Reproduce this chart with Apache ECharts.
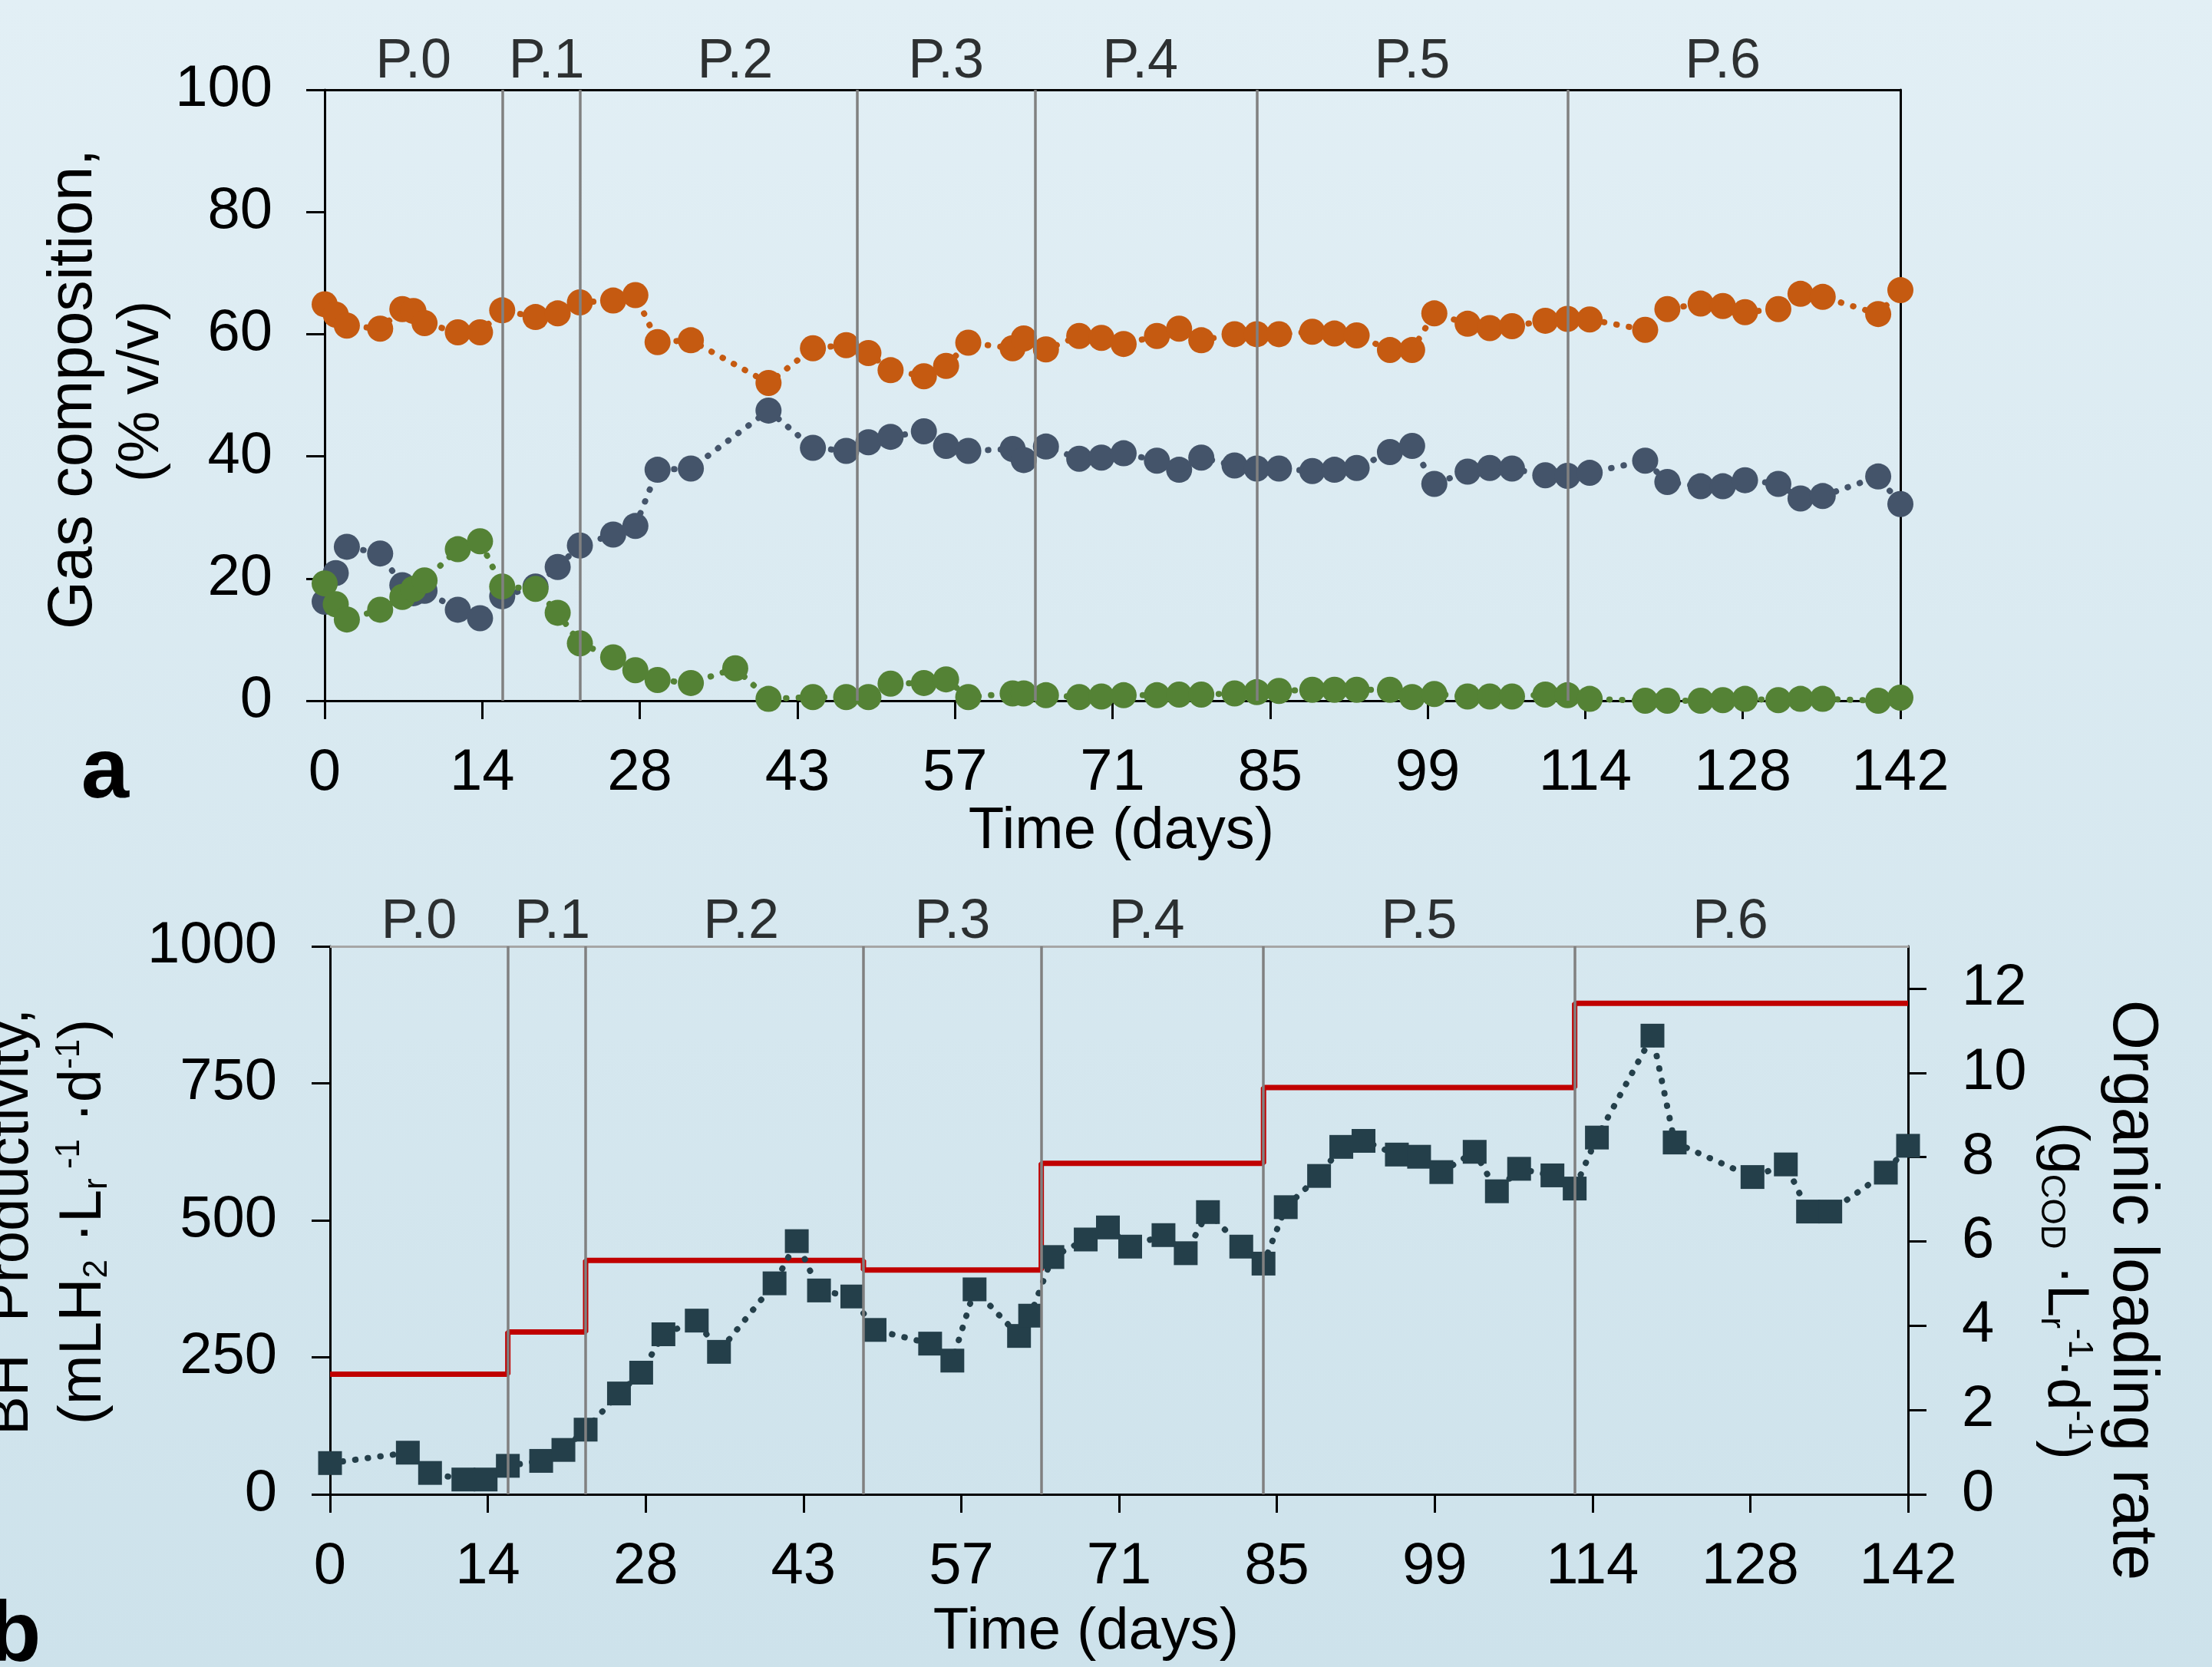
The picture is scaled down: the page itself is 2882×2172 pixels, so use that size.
<!DOCTYPE html>
<html><head><meta charset="utf-8">
<script src="https://cdn.jsdelivr.net/npm/echarts@6/dist/echarts.min.js"></script>
<style>html,body{margin:0;padding:0;width:2882px;height:2172px;overflow:hidden;background:#D8E9F0;}
#c{width:2882px;height:2172px;}</style></head>
<body><div id="c"></div>
<script>
const FONT = '"Liberation Sans", Arial, sans-serif';

// ---- Panel a: gas composition (% v/v) ----
const gasDays = [0,1,2,5,7,8,9,12,14,16,19,21,23,26,28,30,33,40,44,47,49,51,54,56,58,62,63,65,68,70,72,75,77,79,82,84,86,89,91,93,96,98,100,103,105,107,110,112,114,119,121,124,126,128,131,133,135,140,142];
const orangeShare = [64.9,63.2,61.4,60.9,64.1,63.8,61.8,60.3,60.3,63.9,62.8,63.4,65.2,65.5,66.4,58.7,59.0,52.0,57.7,58.2,56.9,54.1,53.1,54.8,58.6,57.7,59.3,57.5,59.7,59.4,58.4,59.7,60.9,59.0,60.0,60.0,60.0,60.4,60.1,59.8,57.4,57.4,63.4,61.7,61.0,61.3,62.2,62.5,62.4,60.7,64.1,65.0,64.6,63.6,64.1,66.6,66.1,63.3,67.2];
const slateShare = [16.2,20.9,25.2,24.1,18.9,17.6,18.0,14.9,13.5,17.1,18.7,21.9,25.4,27.2,28.6,37.8,38.0,47.5,41.4,40.9,42.3,43.2,44.1,41.7,40.9,41.2,39.4,41.6,39.6,39.8,40.5,39.3,37.8,39.8,38.5,38.0,38.0,37.6,37.8,38.1,40.7,41.7,35.5,37.5,38.1,38.0,36.9,36.8,37.3,39.3,35.8,35.1,35.1,36.1,35.5,33.1,33.5,36.7,32.2];
const greenDays = [0,1,2,5,7,8,9,12,14,16,19,21,23,26,28,30,33,37,40,44,47,49,51,54,56,58,62,63,65,68,70,72,75,77,79,82,84,86,89,91,93,96,98,100,103,105,107,110,112,114,119,121,124,126,128,131,133,135,140,142];
const greenShare = [19.2,15.8,13.3,14.9,17.0,18.3,19.7,24.8,26.1,18.7,18.3,14.4,9.4,7.1,5.0,3.4,2.9,5.3,0.3,0.6,0.6,0.6,2.8,2.9,3.5,0.6,1.2,1.2,0.9,0.6,0.7,0.9,0.9,1.0,1.0,1.2,1.4,1.6,1.8,1.8,1.8,1.8,0.6,1.1,0.7,0.7,0.7,1.0,0.9,0.3,0,0,0,0.1,0.3,0.1,0.3,0.3,0,0.5];

// ---- Panel b: BH productivity and organic loading rate ----
const bhDays = [0,7,9,12,14,16,19,21,23,26,28,30,33,35,40,42,44,47,49,54,56,58,62,63,65,68,70,72,75,77,79,82,84,86,89,91,93,96,98,100,103,105,107,110,112,114,119,121,128,131,133,135,140,142];
const bhProductivity = [57,76,39,27,27,52,61,81,118,184,222,292,317,260,385,462,372,361,300,275,244,374,289,326,433,465,487,452,473,440,515,452,421,524,581,634,645,620,616,588,625,553,594,582,558,651,837,642,579,602,516,516,587,636];
const olrStartDays = [0,16,23,48,64,84,112];
const olrValues = [2.85,3.85,5.55,5.32,7.85,9.65,11.65];
const olrEndDay = 142;

// ---- phases and ticks ----
const phaseBounds = [16,23,48,64,84,112];
const phaseNames = ['P.0','P.1','P.2','P.3','P.4','P.5','P.6'];
const phaseLabelDays = [8,20,37,56,73.5,98,126];
const olrAxisMax = 13;
const olrTickMax = 12;

const zip = (xs, ys) => xs.map((x, i) => [x, ys[i]]);
const dotted = (color) => ({ color: color, width: 8, type: [0.5, 16], cap: 'round' });
const blackLine = { show: true, onZero: false, lineStyle: { color: '#000', width: 3 } };

function xAxisMain(gi) {
  return { gridIndex: gi, type: 'value', min: 0, max: 142, interval: 14.2,
    axisLine: blackLine,
    axisTick: { show: true, length: 24, lineStyle: { color: '#000', width: 3 } },
    axisLabel: { fontSize: 76, fontFamily: FONT, color: '#000', margin: 57, formatter: v => String(Math.round(v)) },
    splitLine: { show: false } };
}
function xAxisTop(gi, color) {
  return { gridIndex: gi, type: 'value', position: 'top', min: 0, max: 142,
    axisLine: { show: true, onZero: false, lineStyle: { color: color, width: 3 } },
    axisTick: { show: false }, axisLabel: { show: false }, splitLine: { show: false } };
}

// bottom panel plot box
const gB = { left: 430, top: 1233, width: 2056, height: 714 };

const option = {
  animation: false,
  backgroundColor: { type: 'linear', x: 0, y: 0, x2: 0, y2: 1,
    colorStops: [{ offset: 0, color: '#E2EFF5' }, { offset: 1, color: '#CDE2EB' }] },
  grid: [
    { left: 423, top: 117, width: 2053, height: 796 },
    { left: gB.left, top: gB.top, width: gB.width, height: gB.height },
    // helper box holding the 0..12 part of the right axis (ticks and labels only)
    { left: gB.left, width: gB.width,
      top: gB.top + gB.height * (olrAxisMax - olrTickMax) / olrAxisMax,
      height: gB.height * olrTickMax / olrAxisMax }
  ],
  xAxis: [ xAxisMain(0), xAxisTop(0, '#000'), xAxisMain(1), xAxisTop(1, '#A6A6A6'),
    { gridIndex: 2, type: 'value', min: 0, max: 142, show: false, axisLine: { onZero: false } } ],
  yAxis: [
    { gridIndex: 0, type: 'value', min: 0, max: 100, interval: 20,
      axisLine: blackLine,
      axisTick: { show: true, length: 24, lineStyle: { color: '#000', width: 3 } },
      axisLabel: { fontSize: 76, fontFamily: FONT, color: '#000', margin: 68, formatter: v => String(v) },
      splitLine: { show: false } },
    { gridIndex: 0, type: 'value', position: 'right', min: 0, max: 100,
      axisLine: blackLine,
      axisTick: { show: false }, axisLabel: { show: false }, splitLine: { show: false } },
    { gridIndex: 1, type: 'value', min: 0, max: 1000, interval: 250,
      axisLine: blackLine,
      axisTick: { show: true, length: 24, lineStyle: { color: '#000', width: 3 } },
      axisLabel: { fontSize: 76, fontFamily: FONT, color: '#000', margin: 69, formatter: v => String(v) },
      splitLine: { show: false } },
    { gridIndex: 1, type: 'value', position: 'right', min: 0, max: olrAxisMax,
      axisLine: blackLine,
      axisTick: { show: false }, axisLabel: { show: false }, splitLine: { show: false } },
    { gridIndex: 2, type: 'value', position: 'right', min: 0, max: olrTickMax, interval: 2,
      axisLine: { show: false, onZero: false },
      axisTick: { show: true, length: 24, lineStyle: { color: '#000', width: 3 } },
      axisLabel: { fontSize: 76, fontFamily: FONT, color: '#000', margin: 70, formatter: v => String(v) },
      splitLine: { show: false } }
  ],
  series: [
    { type: 'line', xAxisIndex: 0, yAxisIndex: 0, data: zip(gasDays, orangeShare), symbol: 'circle', symbolSize: 34,
      showAllSymbol: true, itemStyle: { color: '#C55A11' }, lineStyle: dotted('#C55A11'), z: 3 },
    { type: 'line', xAxisIndex: 0, yAxisIndex: 0, data: zip(gasDays, slateShare), symbol: 'circle', symbolSize: 34,
      showAllSymbol: true, itemStyle: { color: '#44546A' }, lineStyle: dotted('#44546A'), z: 3 },
    { type: 'line', xAxisIndex: 0, yAxisIndex: 0, data: zip(greenDays, greenShare), symbol: 'circle', symbolSize: 34,
      showAllSymbol: true, itemStyle: { color: '#548235' }, lineStyle: dotted('#548235'), z: 3,
      markLine: { silent: true, symbol: ['none', 'none'], label: { show: false }, animation: false,
        lineStyle: { color: '#808080', width: 3.5, type: 'solid' },
        data: phaseBounds.map(d => ({ xAxis: d })) } },
    { type: 'scatter', xAxisIndex: 0, yAxisIndex: 0, symbolSize: 1, clip: false, silent: true,
      itemStyle: { color: 'rgba(0,0,0,0)' },
      label: { show: true, position: 'inside', offset: [0, -36], formatter: p => p.name,
        fontSize: 72, fontFamily: FONT, color: '#000' },
      data: phaseNames.map((n, i) => ({ name: n, value: [phaseLabelDays[i], 100] })) },

    { type: 'line', xAxisIndex: 2, yAxisIndex: 3, step: 'end', symbol: 'none',
      data: zip(olrStartDays, olrValues).concat([[olrEndDay, olrValues[olrValues.length - 1]]]),
      lineStyle: { color: '#C00000', width: 7 }, z: 2 },
    { type: 'line', xAxisIndex: 2, yAxisIndex: 2, data: zip(bhDays, bhProductivity), symbol: 'rect', symbolSize: 31,
      showAllSymbol: true, itemStyle: { color: '#243F4A' }, lineStyle: dotted('#243F4A'), z: 3,
      markLine: { silent: true, symbol: ['none', 'none'], label: { show: false }, animation: false,
        lineStyle: { color: '#808080', width: 3.5, type: 'solid' },
        data: phaseBounds.map(d => ({ xAxis: d })) } },
    { type: 'scatter', xAxisIndex: 2, yAxisIndex: 2, symbolSize: 1, clip: false, silent: true,
      itemStyle: { color: 'rgba(0,0,0,0)' },
      label: { show: true, position: 'inside', offset: [0, -31], formatter: p => p.name,
        fontSize: 72, fontFamily: FONT, color: '#000' },
      data: phaseNames.map((n, i) => ({ name: n, value: [phaseLabelDays[i], 1000] })) }
  ]
};

function txt(text, x, y, size, rot, extra) {
  return Object.assign({ type: 'text', x: x, y: y, rotation: rot || 0, silent: true, z: 50,
    style: Object.assign({ text: text, fontSize: size, fontFamily: FONT, fill: '#000',
      align: 'center', verticalAlign: 'middle', textAlign: 'center', textVerticalAlign: 'middle' }, extra || {}) });
}
const subS = { fontSize: 44, fontFamily: FONT, fill: '#000', lineHeight: 40, verticalAlign: 'bottom' };
const supS = { fontSize: 44, fontFamily: FONT, fill: '#000', lineHeight: 40, verticalAlign: 'top' };

option.graphic = [
  txt('Gas composition,', 97, 507, 81, Math.PI / 2),
  txt('(% v/v)', 185, 510, 76, Math.PI / 2),
  txt('a', 137, 1008, 112, 0, { fontWeight: 'bold' }),
  txt('Time (days)', 1461, 1084, 76, 0),
  txt('BH  Productivity,', 15, 1592, 76, Math.PI / 2),
  txt('(mLH{sub|2} ·L{sub|r}{sup| -1} ·d{sup|-1})', 109, 1592, 78, Math.PI / 2,
    { lineHeight: 80, rich: { sub: subS, sup: supS } }),
  txt('Organic loading rate', 2777, 1681, 84, -Math.PI / 2),
  txt('(g{sub|COD} ·L{sub|r}{sup|-1}·d{sup|-1})', 2690, 1682, 76, -Math.PI / 2,
    { lineHeight: 80, rich: { sub: subS, sup: supS } }),
  txt('Time (days)', 1415, 2127, 76, 0),
  txt('b', -15, 2133, 112, 0, { fontWeight: 'bold', align: 'left', textAlign: 'left' })
];

const chart = echarts.init(document.getElementById('c'));
chart.setOption(option);
</script>
</body></html>
